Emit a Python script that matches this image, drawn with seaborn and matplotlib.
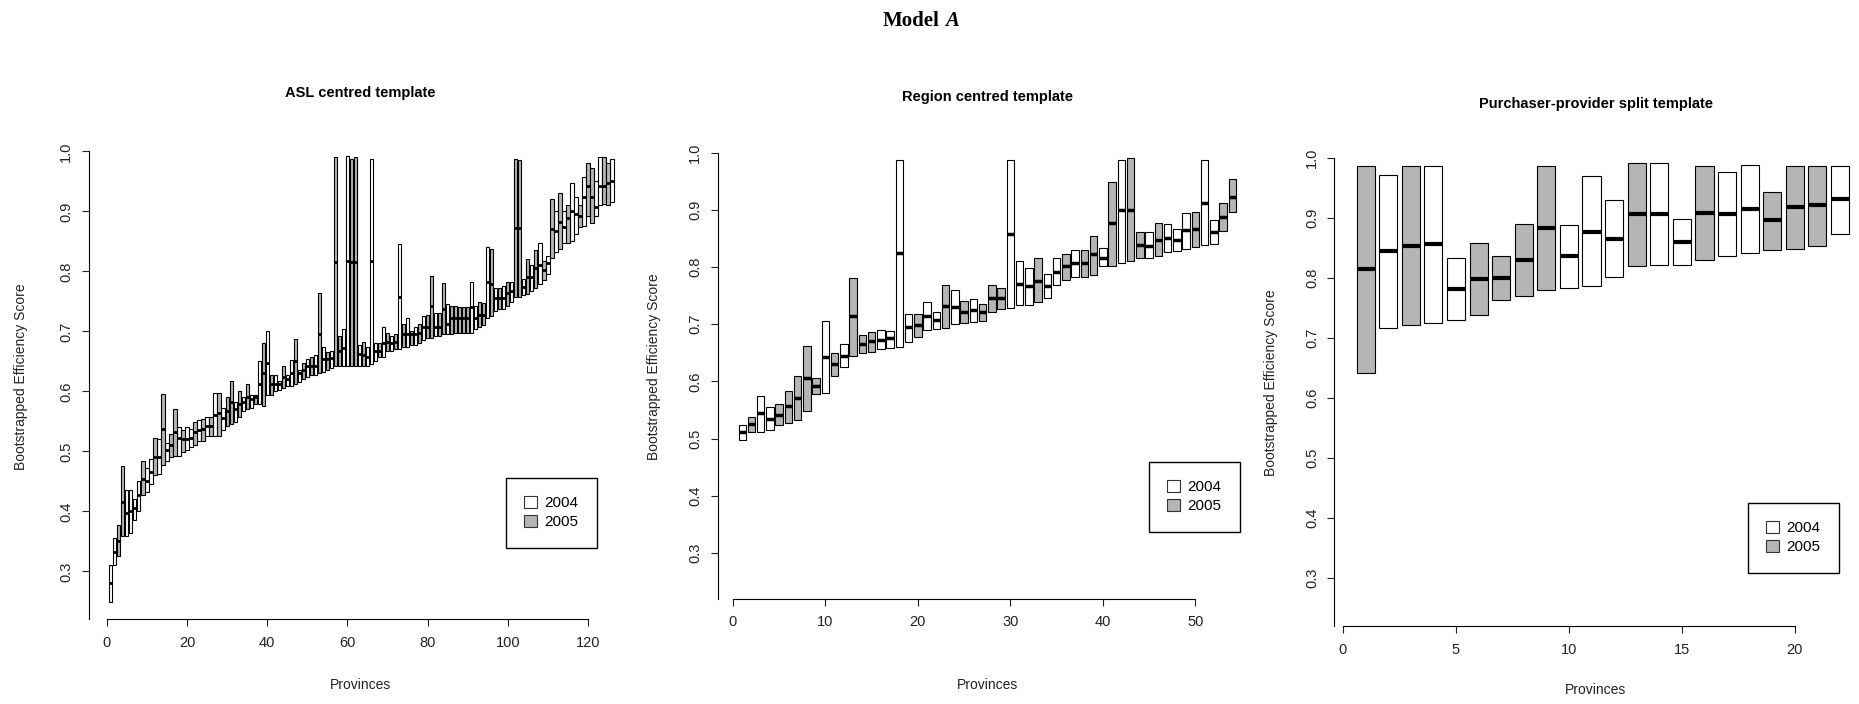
import matplotlib
matplotlib.use("Agg")
import matplotlib.pyplot as plt
from matplotlib.patches import Patch
import seaborn as sns
import pandas as pd

# ---- data: bootstrapped efficiency score per province (low, median, high) and year
asl_low = [0.249, 0.310, 0.325, 0.359, 0.359, 0.364, 0.386, 0.401, 0.427, 0.433,
           0.445, 0.460, 0.463, 0.478, 0.484, 0.490, 0.493, 0.493, 0.499, 0.502,
           0.508, 0.511, 0.517, 0.518, 0.526, 0.526, 0.526, 0.526, 0.535, 0.543,
           0.546, 0.549, 0.558, 0.567, 0.570, 0.573, 0.579, 0.579, 0.576, 0.594,
           0.594, 0.600, 0.603, 0.606, 0.609, 0.609, 0.612, 0.615, 0.621, 0.624,
           0.627, 0.627, 0.630, 0.633, 0.636, 0.639, 0.642, 0.642, 0.643, 0.643,
           0.643, 0.643, 0.643, 0.643, 0.643, 0.645, 0.651, 0.657, 0.657, 0.668,
           0.668, 0.671, 0.671, 0.674, 0.674, 0.677, 0.677, 0.680, 0.686, 0.689,
           0.689, 0.692, 0.692, 0.695, 0.695, 0.696, 0.698, 0.698, 0.698, 0.698,
           0.698, 0.704, 0.707, 0.710, 0.722, 0.725, 0.734, 0.737, 0.738, 0.743,
           0.749, 0.758, 0.758, 0.761, 0.762, 0.768, 0.773, 0.779, 0.785, 0.796,
           0.823, 0.832, 0.838, 0.847, 0.847, 0.850, 0.862, 0.874, 0.875, 0.892,
           0.880, 0.892, 0.910, 0.913, 0.910, 0.915]
asl_med = [0.280, 0.332, 0.351, 0.416, 0.398, 0.401, 0.406, 0.427, 0.454, 0.451,
           0.466, 0.491, 0.491, 0.537, 0.502, 0.511, 0.532, 0.523, 0.520, 0.520,
           0.523, 0.532, 0.535, 0.538, 0.542, 0.542, 0.561, 0.564, 0.555, 0.567,
           0.582, 0.570, 0.579, 0.582, 0.591, 0.588, 0.591, 0.613, 0.630, 0.648,
           0.612, 0.612, 0.612, 0.624, 0.621, 0.630, 0.651, 0.630, 0.636, 0.642,
           0.642, 0.642, 0.696, 0.654, 0.654, 0.655, 0.815, 0.667, 0.673, 0.817,
           0.815, 0.815, 0.662, 0.661, 0.657, 0.817, 0.667, 0.667, 0.680, 0.683,
           0.680, 0.683, 0.758, 0.695, 0.695, 0.695, 0.695, 0.698, 0.708, 0.708,
           0.743, 0.708, 0.708, 0.738, 0.713, 0.722, 0.722, 0.722, 0.722, 0.722,
           0.740, 0.722, 0.728, 0.728, 0.782, 0.779, 0.756, 0.756, 0.756, 0.764,
           0.767, 0.872, 0.872, 0.774, 0.790, 0.790, 0.805, 0.811, 0.802, 0.814,
           0.871, 0.868, 0.883, 0.874, 0.889, 0.901, 0.895, 0.892, 0.924, 0.942,
           0.924, 0.907, 0.942, 0.942, 0.948, 0.951]
asl_high = [0.310, 0.355, 0.377, 0.475, 0.435, 0.436, 0.420, 0.451, 0.484, 0.472,
            0.487, 0.523, 0.520, 0.595, 0.514, 0.529, 0.571, 0.540, 0.535, 0.540,
            0.537, 0.549, 0.552, 0.554, 0.558, 0.558, 0.597, 0.597, 0.573, 0.591,
            0.618, 0.582, 0.600, 0.591, 0.612, 0.594, 0.594, 0.651, 0.680, 0.701,
            0.627, 0.627, 0.618, 0.642, 0.627, 0.652, 0.688, 0.636, 0.648, 0.654,
            0.657, 0.660, 0.764, 0.674, 0.665, 0.668, 0.991, 0.692, 0.704, 0.993,
            0.988, 0.990, 0.677, 0.683, 0.674, 0.988, 0.680, 0.680, 0.708, 0.698,
            0.692, 0.695, 0.845, 0.712, 0.722, 0.701, 0.707, 0.713, 0.725, 0.728,
            0.793, 0.731, 0.731, 0.780, 0.746, 0.743, 0.743, 0.740, 0.740, 0.740,
            0.783, 0.743, 0.749, 0.748, 0.841, 0.838, 0.773, 0.773, 0.776, 0.782,
            0.782, 0.988, 0.986, 0.787, 0.820, 0.811, 0.835, 0.847, 0.817, 0.826,
            0.920, 0.901, 0.930, 0.901, 0.910, 0.948, 0.924, 0.910, 0.957, 0.981,
            0.972, 0.951, 0.990, 0.990, 0.981, 0.987]
asl_year = list("WWGGWWWWGWWGWGWGGWGWWGWGWGWGWGGWGWGWGWGWGWWGWWGWGWGWGWGWGGWWGGWGWWWGWGWGWGWGWGWGGWGGWGGGGGWWGGWGWGWGWGGWGWGWGWGWGWGWWGWGGWWGGW")

reg_low = [0.497, 0.511, 0.511, 0.515, 0.524, 0.528, 0.533, 0.548, 0.577, 0.580,
           0.610, 0.625, 0.645, 0.650, 0.652, 0.657, 0.659, 0.660, 0.669, 0.678,
           0.690, 0.692, 0.693, 0.701, 0.702, 0.703, 0.706, 0.722, 0.726, 0.728,
           0.733, 0.733, 0.739, 0.745, 0.769, 0.778, 0.782, 0.782, 0.786, 0.801,
           0.801, 0.807, 0.810, 0.815, 0.815, 0.819, 0.826, 0.828, 0.832, 0.835,
           0.839, 0.841, 0.863, 0.897]
reg_med = [0.511, 0.526, 0.544, 0.535, 0.542, 0.556, 0.570, 0.605, 0.592, 0.643,
           0.630, 0.645, 0.714, 0.666, 0.670, 0.673, 0.675, 0.824, 0.695, 0.698,
           0.714, 0.708, 0.732, 0.730, 0.721, 0.724, 0.722, 0.746, 0.746, 0.858,
           0.771, 0.766, 0.776, 0.766, 0.792, 0.801, 0.807, 0.807, 0.822, 0.816,
           0.877, 0.899, 0.899, 0.839, 0.837, 0.848, 0.851, 0.848, 0.864, 0.867,
           0.912, 0.862, 0.888, 0.922]
reg_high = [0.524, 0.538, 0.575, 0.555, 0.560, 0.583, 0.610, 0.661, 0.605, 0.705,
            0.650, 0.666, 0.781, 0.681, 0.686, 0.689, 0.688, 0.988, 0.718, 0.718,
            0.739, 0.721, 0.769, 0.759, 0.741, 0.744, 0.735, 0.769, 0.764, 0.987,
            0.810, 0.798, 0.815, 0.787, 0.815, 0.823, 0.830, 0.830, 0.855, 0.833,
            0.949, 0.988, 0.990, 0.862, 0.861, 0.877, 0.875, 0.866, 0.895, 0.897,
            0.987, 0.883, 0.912, 0.954]
reg_year = list("WGWWGGGGGWGWGGGWWWWGWWGWGWGGGWWWGWWGWGGWGWGGWGWWWGWWGG")

pps_low = [0.641, 0.717, 0.721, 0.725, 0.730, 0.738, 0.764, 0.770, 0.780, 0.784,
           0.786, 0.801, 0.820, 0.822, 0.822, 0.830, 0.836, 0.842, 0.847, 0.849,
           0.853, 0.874]
pps_med = [0.815, 0.845, 0.853, 0.857, 0.782, 0.798, 0.800, 0.830, 0.883, 0.837,
           0.877, 0.865, 0.906, 0.906, 0.860, 0.908, 0.906, 0.915, 0.896, 0.918,
           0.921, 0.931]
pps_high = [0.987, 0.972, 0.986, 0.987, 0.833, 0.859, 0.837, 0.890, 0.986, 0.889,
            0.970, 0.930, 0.991, 0.991, 0.898, 0.986, 0.977, 0.989, 0.943, 0.987,
            0.987, 0.986]
pps_year = list("GWGWWGGGGWWWGWWGWWGGGW")

year_names = {"W": "2004", "G": "2005"}
colours = {"2004": "white", "2005": "#b5b5b5"}

W, H = 1859, 704
fig = plt.figure(figsize=(W / 100, H / 100), dpi=100)
plt.rcParams["font.family"] = ["Liberation Sans", "DejaVu Sans"]


def box_table(low, med, high, year):
    # five points per province so that the box runs low..high with the median inside
    rows = []
    for i, (lo, md, hi, yr) in enumerate(zip(low, med, high, year), start=1):
        for v in (lo, lo, md, hi, hi):
            rows.append({"province": i, "score": v, "year": year_names[yr]})
    return pd.DataFrame(rows)


def panel(box, xlim, xmax_tick, xstep, title, low, med, high, year,
          med_lw, title_y, ylab_x, xlab_y, legend_px):
    left, top, right, bottom = box
    ax = fig.add_axes([left / W, 1 - bottom / H, (right - left) / W, (bottom - top) / H])
    df = box_table(low, med, high, year)
    sns.boxplot(data=df, x="province", y="score", hue="year", palette=colours,
                native_scale=True, dodge=False, width=0.8, saturation=1,
                linecolor="black", linewidth=0.8, showcaps=False, showfliers=False,
                whiskerprops={"linewidth": 0},
                medianprops={"linewidth": med_lw, "color": "black"},
                legend=False, ax=ax)
    ax.set_xlim(*xlim)
    ax.set_ylim(0.22, 1.03)
    ax.set_xticks(range(0, xmax_tick + 1, xstep))
    ax.set_yticks([0.3, 0.4, 0.5, 0.6, 0.7, 0.8, 0.9, 1.0])
    ax.set_yticklabels(["0.3", "0.4", "0.5", "0.6", "0.7", "0.8", "0.9", "1.0"],
                       rotation=90, va="center")
    ax.tick_params(axis="both", direction="out", length=5, width=0.8,
                   labelsize=10.5, colors="#222222")
    ax.tick_params(axis="x", pad=7)
    ax.tick_params(axis="y", pad=6)
    for s in ("top", "right"):
        ax.spines[s].set_visible(False)
    ax.spines["left"].set_bounds(0.22, 1.0)
    ax.spines["bottom"].set_bounds(0, xmax_tick)
    ax.spines["left"].set_linewidth(0.8)
    ax.spines["bottom"].set_linewidth(0.8)
    ax.set_xlabel("")
    ax.set_ylabel("")
    cx = (left + right) / 2
    fig.text(cx / W, 1 - title_y / H, title,
             ha="center", va="center", fontsize=10.5, fontweight="bold")
    fig.text(ylab_x / W, 1 - (top + bottom) / 2 / H, "Bootstrapped Efficiency Score",
             ha="center", va="center", rotation=90, fontsize=10, color="#222222")
    fig.text(cx / W, 1 - xlab_y / H, "Provinces", ha="center", va="center",
             fontsize=10, color="#222222")
    lx0, ly0 = legend_px
    handles = [Patch(facecolor=colours[k], edgecolor="#333333", linewidth=0.8)
               for k in ("2004", "2005")]
    ax.legend(handles, ["2004", "2005"], loc="upper left",
              bbox_to_anchor=((lx0 - left) / (right - left), (bottom - ly0) / (bottom - top)),
              frameon=True, fancybox=False, edgecolor="black", framealpha=1,
              fontsize=11, handlelength=0.8, handleheight=0.8, handletextpad=0.5,
              borderpad=1.2, labelspacing=0.3, borderaxespad=0)
    return ax


panel((88.6, 133.4, 632.3, 619.4), (-4.54, 131.04), 120, 20, "ASL centred template",
      asl_low, asl_med, asl_high, asl_year, 2.0, 93, 21, 685, (506, 478))
panel((717.6, 135.5, 1257, 598.6), (-1.66, 56.66), 50, 10, "Region centred template",
      reg_low, reg_med, reg_high, reg_year, 2.5, 97, 654, 685, (1149, 462))
panel((1334.4, 140, 1857, 626), (-0.38, 22.75), 20, 5, "Purchaser-provider split template",
      pps_low, pps_med, pps_high, pps_year, 3.0, 104, 1271, 690, (1748, 503))

fig.text(940 / W, 1 - 21 / H, "Model", ha="right", va="center", fontsize=15,
         fontweight="bold", family="Liberation Serif")
fig.text(945 / W, 1 - 21 / H, "A", ha="left", va="center", fontsize=15,
         fontweight="bold", style="italic", family="Liberation Serif")

fig.savefig("out.png", dpi=100)
